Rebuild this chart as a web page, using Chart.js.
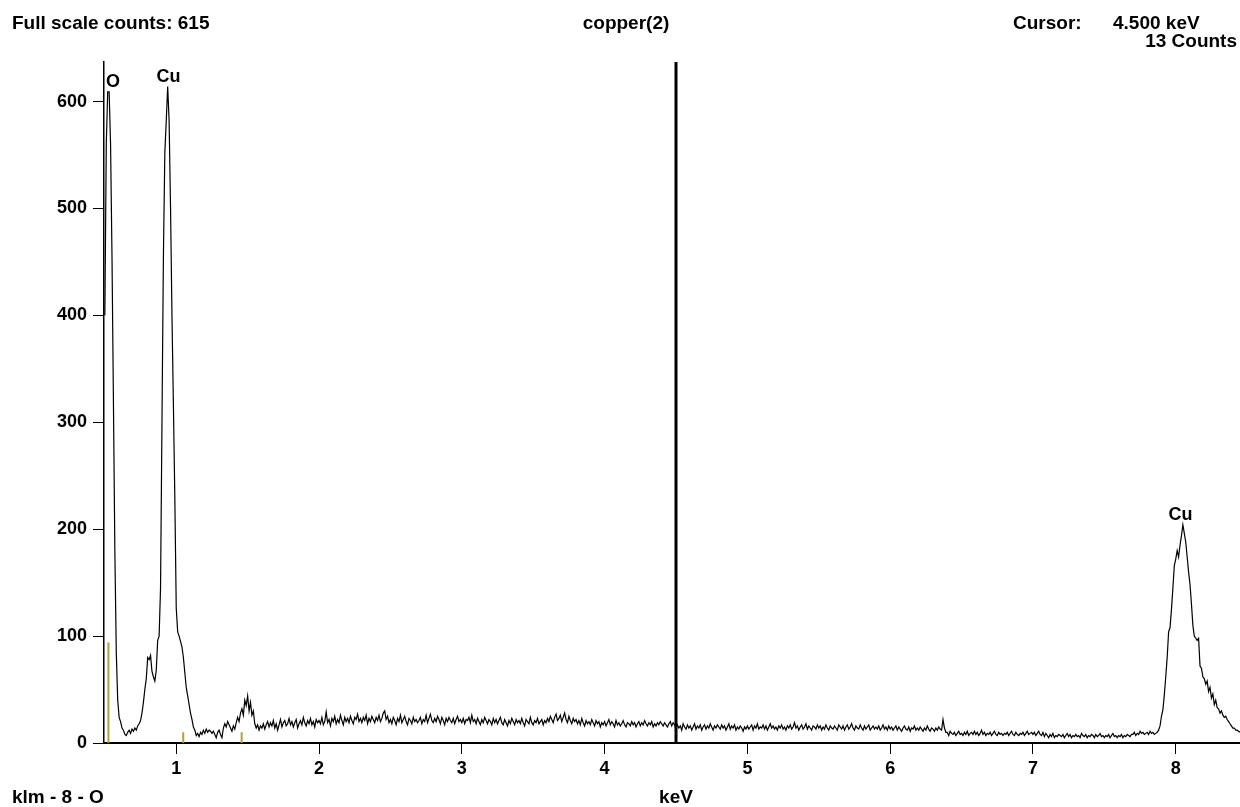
<!DOCTYPE html>
<html>
<head>
<meta charset="utf-8">
<title>copper(2)</title>
<script src="https://cdn.jsdelivr.net/npm/chart.js@4/dist/chart.umd.min.js"></script>
<style>
  body { margin: 0; background: #fff; }
  #wrap { position: relative; width: 1240px; height: 807px; }
</style>
</head>
<body>
<div id="wrap"><canvas id="spectrum" width="1240" height="807"></canvas></div>
<script>
// channel calibration of the spectrum (keV)
const channelStartKeV = 0.50;
const channelWidthKeV = 0.01;

// counts per channel, one row per 0.1 keV
const counts = [
  400, 560, 609, 609, 560, 455, 320, 180, 85, 40,   // 0.50
  24, 20, 14, 12, 8, 7, 10, 12, 9, 13,              // 0.60
  11, 14, 12, 16, 18, 21, 28, 38, 50, 60,           // 0.70
  80, 78, 82, 67, 62, 58, 68, 96, 100, 145,         // 0.80
  300, 454, 552, 582, 614, 582, 501, 400, 317, 230, // 0.90
  126, 104, 100, 95, 90, 80, 66, 52, 44, 36,        // 1.00
  28, 22, 15, 12, 7, 9, 6, 10, 8, 12,               // 1.10
  9, 13, 10, 12, 11, 9, 11, 8, 5, 10,               // 1.20
  12, 8, 5, 14, 18, 15, 20, 17, 14, 11,             // 1.30
  16, 13, 19, 24, 20, 28, 32, 26, 40, 35,           // 1.40
  44, 30, 38, 26, 30, 18, 14, 17, 12, 16,           // 1.50
  14, 18, 13, 17, 20, 15, 19, 16, 21, 14,           // 1.60
  18, 12, 17, 22, 15, 19, 21, 16, 18, 23,           // 1.70
  17, 20, 15, 19, 22, 14, 18, 21, 17, 24,           // 1.80
  19, 16, 21, 18, 23, 17, 20, 15, 22, 19,           // 1.90
  21, 18, 24, 17, 20, 29, 19, 22, 16, 23,           // 2.00
  20, 25, 18, 22, 19, 26, 21, 17, 24, 20,           // 2.10
  23, 19, 25, 21, 18, 24, 22, 27, 20, 23,           // 2.20
  19, 24, 21, 26, 18, 23, 20, 25, 22, 19,           // 2.30
  24, 21, 26, 20, 23, 28, 30, 22, 25, 19,           // 2.40
  22, 18, 24, 21, 17, 23, 20, 26, 19, 22,           // 2.50
  25, 20, 17, 23, 21, 18, 24, 20, 22, 19,           // 2.60
  21, 24, 18, 22, 20, 26, 19, 23, 27, 21,           // 2.70
  19, 23, 20, 25, 22, 18, 24, 21, 17, 23,           // 2.80
  20, 24, 21, 19, 23, 18, 22, 25, 20, 22,           // 2.90
  19, 23, 18, 22, 21, 24, 19, 26, 20, 22,           // 3.00
  18, 23, 20, 17, 22, 19, 24, 21, 18, 22,           // 3.10
  20, 17, 23, 19, 22, 18, 21, 24, 19, 17,           // 3.20
  22, 19, 16, 21, 18, 23, 20, 17, 22, 19,           // 3.30
  21, 18, 23, 19, 16, 22, 20, 18, 24, 19,           // 3.40
  17, 21, 19, 23, 18, 20, 22, 17, 21, 19,           // 3.50
  23, 20, 25, 22, 19, 24, 27, 21, 23, 26,           // 3.60
  20, 24, 28, 22, 19, 25, 21, 18, 23, 20,           // 3.70
  22, 18, 21, 17, 23, 19, 16, 21, 18, 20,           // 3.80
  17, 22, 19, 16, 21, 18, 20, 15, 19, 17,           // 3.90
  20, 16, 19, 22, 17, 20, 18, 15, 21, 17,           // 4.00
  19, 16, 18, 21, 17, 15, 19, 18, 16, 20,           // 4.10
  17, 19, 15, 18, 20, 16, 19, 17, 21, 18,           // 4.20
  16, 19, 17, 20, 15, 18, 16, 19, 17, 20,           // 4.30
  18, 16, 19, 17, 15, 18, 20, 16, 19, 17,           // 4.40
  13, 17, 14, 16, 12, 18, 15, 13, 17, 14,           // 4.50
  16, 12, 15, 18, 13, 16, 14, 17, 12, 15,           // 4.60
  17, 13, 16, 14, 18, 15, 12, 16, 14, 17,           // 4.70
  15, 13, 17, 14, 16, 12, 15, 18, 13, 16,           // 4.80
  14, 17, 12, 15, 13, 16, 14, 11, 15, 13,           // 4.90
  16, 13, 15, 17, 12, 16, 14, 18, 13, 15,           // 5.00
  14, 17, 13, 16, 12, 15, 18, 14, 16, 13,           // 5.10
  15, 12, 16, 14, 17, 13, 15, 12, 16, 14,           // 5.20
  17, 13, 15, 19, 14, 16, 12, 15, 17, 13,           // 5.30
  15, 18, 13, 16, 14, 12, 16, 15, 13, 17,           // 5.40
  14, 16, 12, 15, 13, 17, 14, 12, 16, 14,           // 5.50
  13, 16, 14, 12, 17, 15, 13, 16, 12, 15,           // 5.60
  17, 13, 15, 18, 14, 12, 16, 14, 13, 17,           // 5.70
  14, 12, 16, 13, 15, 17, 12, 14, 16, 13,           // 5.80
  15, 13, 16, 12, 14, 17, 13, 15, 12, 16,           // 5.90
  13, 15, 12, 14, 16, 12, 15, 13, 11, 14,           // 6.00
  16, 13, 12, 15, 11, 14, 13, 16, 12, 14,           // 6.10
  12, 15, 13, 11, 14, 12, 16, 13, 11, 14,           // 6.20
  13, 11, 14, 12, 15, 13, 12, 22, 14, 10,           // 6.30
  10, 7, 11, 9, 8, 10, 7, 9, 11, 8,                 // 6.40
  9, 7, 10, 8, 11, 7, 9, 10, 8, 11,                 // 6.50
  8, 10, 7, 9, 12, 8, 10, 7, 9, 8,                  // 6.60
  10, 7, 9, 11, 8, 7, 10, 8, 9, 7,                  // 6.70
  9, 8, 10, 7, 9, 11, 8, 7, 10, 8,                  // 6.80
  7, 9, 8, 10, 7, 9, 11, 8, 9, 10,                  // 6.90
  8, 10, 7, 9, 11, 8, 7, 10, 6, 9,                  // 7.00
  7, 5, 8, 6, 9, 5, 7, 6, 8, 7,                     // 7.10
  6, 8, 5, 7, 9, 6, 8, 5, 7, 6,                     // 7.20
  8, 6, 7, 5, 9, 7, 6, 8, 5, 7,                     // 7.30
  6, 8, 7, 5, 8, 6, 7, 9, 6, 7,                     // 7.40
  5, 7, 6, 8, 5, 7, 9, 6, 7, 5,                     // 7.50
  7, 6, 8, 5, 7, 6, 8, 7, 6, 8,                     // 7.60
  8, 10, 7, 9, 8, 11, 9, 10, 8, 9,                  // 7.70
  10, 8, 11, 9, 10, 8, 9, 10, 12, 16,               // 7.80
  25, 31, 45, 62, 80, 104, 108, 125, 145, 166,      // 7.90
  172, 180, 174, 185, 194, 204, 196, 188, 174, 160, // 8.00
  148, 130, 110, 100, 98, 96, 98, 72, 70, 62,       // 8.10
  60, 55, 58, 48, 52, 42, 46, 36, 40, 33,           // 8.20
  32, 28, 30, 26, 24, 25, 22, 20, 18, 16,           // 8.30
  14, 14, 12, 12, 11, 10, 11, 10, 9, 10             // 8.40
];

const xTicks = [1, 2, 3, 4, 5, 6, 7, 8];
const yTicks = [0, 100, 200, 300, 400, 500, 600];
const xRange = [0.494, 8.45];
const yRange = [0, 637];

// KLM markers (keV, marker height in counts)
const klmMarkerKeV = [0.525, 1.049, 1.458];
const klmMarkerHeight = [94, 10, 10];

// peak labels
const peakLabels = ["O", "Cu", "Cu"];
const peakLabelKeV = [0.557, 0.945, 8.034];
const peakLabelCounts = [609, 614, 204];

const cursorKeV = 4.5;
const cursorCounts = 13;
const fullScaleCounts = 615;
const sampleName = "copper(2)";
const klmText = "klm - 8 - O";

const spectrumPoints = counts.map((c, i) => ({
  x: +(channelStartKeV + i * channelWidthKeV).toFixed(2),
  y: c,
}));

const markerPoints = [];
klmMarkerKeV.forEach((kev, i) => {
  markerPoints.push({ x: kev, y: 0 }, { x: kev, y: klmMarkerHeight[i] }, { x: kev, y: null });
});

const FONT = '"Liberation Sans", Arial, sans-serif';

// header, footer and peak labels
const textPlugin = {
  id: "spectrumText",
  afterDraw(chart) {
    const { ctx, scales } = chart;
    ctx.save();
    ctx.fillStyle = "#000";
    ctx.textBaseline = "alphabetic";

    ctx.font = `bold 19px ${FONT}`;
    ctx.textAlign = "left";
    ctx.fillText(`Full scale counts: ${fullScaleCounts}`, 12, 29);
    ctx.fillText("Cursor:", 1013, 29);
    ctx.fillText(`${cursorKeV.toFixed(3)} keV`, 1113, 29);
    ctx.textAlign = "right";
    ctx.fillText(`${cursorCounts} Counts`, 1237, 47);
    ctx.textAlign = "center";
    ctx.fillText(sampleName, 626, 29);
    ctx.fillText("keV", 676, 803);
    ctx.textAlign = "left";
    ctx.fillText(klmText, 12, 803);

    ctx.font = `bold 18px ${FONT}`;
    ctx.textAlign = "center";
    peakLabels.forEach((t, i) => {
      const px = scales.x.getPixelForValue(peakLabelKeV[i]);
      const py = scales.y.getPixelForValue(peakLabelCounts[i]);
      ctx.fillText(t, px, py - 5);
    });
    ctx.restore();
  },
};

new Chart(document.getElementById("spectrum"), {
  type: "line",
  data: {
    datasets: [
      {
        data: markerPoints,
        borderColor: "#aaa23c",
        borderWidth: 2,
        pointRadius: 0,
        spanGaps: false,
      },
      {
        data: spectrumPoints,
        borderColor: "#000",
        borderWidth: 1.2,
        pointRadius: 0,
        tension: 0,
      },
      {
        data: [{ x: cursorKeV, y: yRange[0] }, { x: cursorKeV, y: yRange[1] }],
        borderColor: "#000",
        borderWidth: 3,
        pointRadius: 0,
      },
    ],
  },
  options: {
    responsive: false,
    devicePixelRatio: 1,
    animation: false,
    layout: { padding: { top: 62, left: 0, right: 0, bottom: 0 } },
    plugins: {
      legend: { display: false },
      tooltip: { enabled: false },
    },
    scales: {
      x: {
        type: "linear",
        min: xRange[0],
        max: xRange[1],
        afterBuildTicks: (scale) => { scale.ticks = xTicks.map((v) => ({ value: v })); },
        afterFit: (scale) => { scale.height = 64; },
        grid: { drawOnChartArea: false, tickLength: 11, tickColor: "#000", tickWidth: 1 },
        border: { color: "#000", width: 2 },
        ticks: { color: "#000", padding: 4, font: { family: FONT, size: 18, weight: "bold" }, maxRotation: 0 },
      },
      y: {
        min: yRange[0],
        max: yRange[1],
        afterBuildTicks: (scale) => { scale.ticks = yTicks.map((v) => ({ value: v })); },
        afterFit: (scale) => { scale.width = 104; },
        grid: { drawOnChartArea: false, tickLength: 11, tickColor: "#000", tickWidth: 1 },
        border: { color: "#000", width: 1.5 },
        ticks: { color: "#000", padding: 6, font: { family: FONT, size: 18, weight: "bold" } },
      },
    },
  },
  plugins: [textPlugin],
});
</script>
</body>
</html>
